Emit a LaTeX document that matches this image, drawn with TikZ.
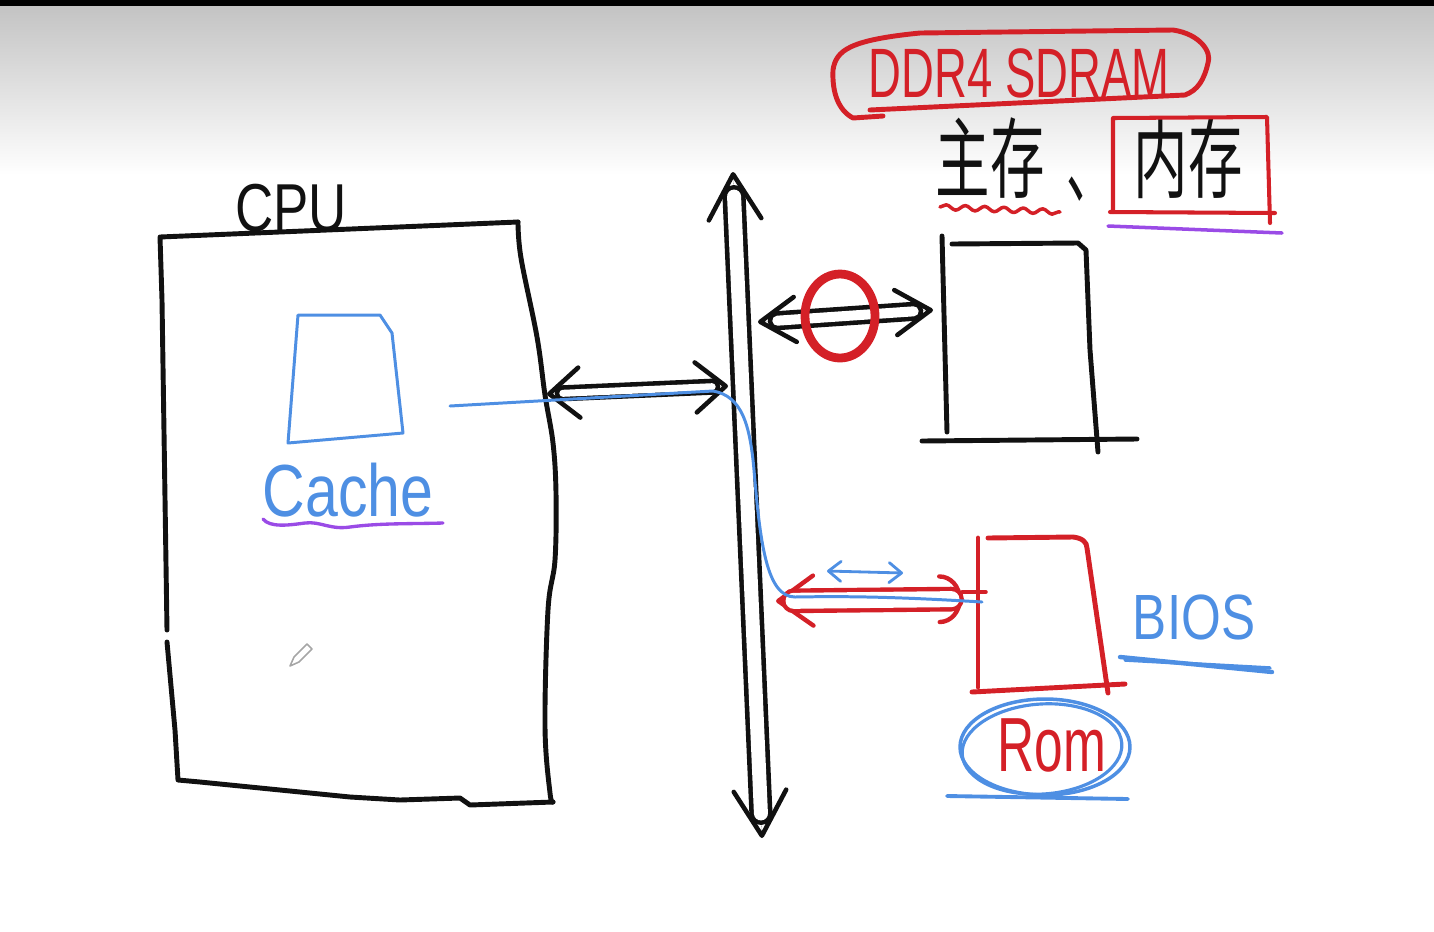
\documentclass[tikz,border=0pt]{standalone}
\usepackage{fontspec}
\setmainfont{Liberation Sans}
\newfontfamily\cjk{Noto Sans CJK SC}
\usetikzlibrary{arrows.meta,decorations.pathmorphing}
\definecolor{Ink}{HTML}{111111}
\definecolor{PenRed}{HTML}{D42027}
\definecolor{PenBlue}{HTML}{4E8FE3}
\definecolor{PenPurple}{HTML}{9A4BE6}
\definecolor{Board}{HTML}{C3C3C3}

\begin{document}
\begin{tikzpicture}[x=0.02cm,y=-0.02cm,
  ink/.style={line width=2.8pt,line cap=round,line join=round,draw=Ink},
  redink/.style={ink,draw=PenRed},
  blueink/.style={ink,draw=PenBlue,line width=1.7pt},
  handtext/.style={inner sep=0pt,text=Ink},
  twin/.style={double=white,double distance=#1,line width=2.6pt,shorten <=9pt,shorten >=9pt},
  barbs/.style n args={2}{line width=0.01pt,{Straight Barb[length=#1,width=#2,line width=2.6pt,round]}-{Straight Barb[length=#1,width=#2,line width=2.6pt,round]}}
]
\useasboundingbox (0,0) rectangle (1434,931);
\shade[top color=Board,bottom color=white] (0,5) rectangle (1434,175);
\fill[black] (0,0) rectangle (1434,6);

% cpu
\draw[ink] (167,630) -- (162,300) -- (160,237) -- (518,222);
\draw[ink] plot[smooth,tension=0.6] coordinates {(518,222) (521,258) (537,337) (545,395) (553,443) (556,493) (555,560) (548,610) (545,727) (550,793) (553,802)};
\draw[ink] (553,802) -- (470,805) -- (460,798) -- (400,800) -- (350,797) -- (200,782) -- (178,780) -- (175,730) -- (167,642);
\node[handtext,font=\fontsize{38.6pt}{40pt}\selectfont,xscale=0.78] (cpu) at (291,208) {CPU};
\draw[blueink] (298,315) -- (380,315) -- (392,333) -- (403,433) -- (288,443) -- (298,315);
\node[handtext,text=PenBlue,font=\fontsize{42pt}{44pt}\selectfont,xscale=0.8] (cache) at (348,490) {Cache};
\draw[ink,draw=PenPurple,line width=1.9pt] (263,519) .. controls (270,528) and (290,525) .. (305,523) .. controls (320,521) and (330,530) .. (350,527) .. controls (380,523) and (410,524) .. (443,523);
\draw[gray!70,line width=0.9pt,line join=round] (290,666) -- (294,657) -- (307,644) -- (312,649) -- (299,662) -- cycle;

% bus
\coordinate (busN) at (733,172);
\coordinate (busS) at (762,838);
\coordinate (cpuE) at (547,394);
\coordinate (busW) at (728,386);
\coordinate (busE) at (758,322);
\coordinate (memW) at (933,310);
\coordinate (busE2) at (776,601);
\coordinate (romW) at (962,599);
\draw[ink,barbs={0.9cm}{1.05cm}] (busN) -- (busS);
\draw[ink,twin=0.28cm,shorten <=14pt,shorten >=14pt] (busN) -- (busS);
\draw[ink,barbs={0.6cm}{1cm}] (cpuE) -- (busW);
\draw[ink,twin=0.14cm] (cpuE) -- (busW);
\draw[ink,barbs={0.7cm}{0.9cm}] (busE) -- (memW);
\draw[ink,twin=0.2cm,shorten <=11pt,shorten >=11pt] (busE) -- (memW);

% main memory
\draw[ink] (942,236) -- (947,432);
\draw[ink] (952,244) -- (1078,243) -- (1086,250) -- (1090,350) -- (1098,452);
\draw[ink] (922,441) -- (1137,439);
\draw[redink,line width=5pt] (840,316) ellipse [x radius=0.7cm,y radius=0.84cm];
\draw[redink] (883,116) -- (853,118) .. controls (838,110) and (832,92) .. (833,70) .. controls (836,50) and (850,40) .. (920,33) -- (1173,30) .. controls (1200,34) and (1212,52) .. (1208,63) .. controls (1204,80) and (1198,90) .. (1185,95) -- (870,110);
\node[handtext,text=PenRed,font=\fontsize{39.8pt}{42pt}\selectfont,xscale=0.65] (ddr) at (1019,73) {DDR4 SDRAM};
\node[handtext,font=\cjk\fontsize{50pt}{52pt}\selectfont,xscale=0.62] (zhucun) at (990,158) {主存};
\node[handtext,font=\cjk\fontsize{50pt}{52pt}\selectfont,anchor=base west,xscale=0.55] (dun) at (1066,196) {、};
\node[handtext,font=\cjk\fontsize{50pt}{52pt}\selectfont,xscale=0.62] (neicun) at (1188,158) {内存};
\draw[redink,line width=2.3pt] (1113,212) -- (1113,118) -- (1267,117) -- (1270,223);
\draw[redink,line width=2.3pt] (1110,212) -- (1275,213);
\draw[redink,line width=2pt,decorate,decoration={snake,amplitude=1.4pt,segment length=11pt}] (940,207) -- (1060,212);
\draw[ink,draw=PenPurple,line width=2pt] (1108,226) -- (1282,233);

% rom
\draw[redink,line width=0.01pt,{Straight Barb[length=0.7cm,width=1cm,line width=2.5pt,round]}-{Arc Barb[length=0.45cm,width=1cm,line width=2.5pt,round]}] (busE2) -- (romW);
\draw[redink,line width=2.5pt,double=white,double distance=0.32cm,shorten <=10pt,shorten >=6pt] (busE2) -- (romW);
\draw[redink,line width=2pt] (962,592) -- (986,592);
\draw[blueink,line width=1.6pt,{Straight Barb[length=0.25cm,width=0.4cm,round]}-{Straight Barb[length=0.25cm,width=0.4cm,round]}] (827,571) -- (903,573);
\draw[redink] (978,538) -- (978,687);
\draw[redink] (988,538) -- (1073,537) .. controls (1082,538) and (1087,542) .. (1087,548) -- (1108,693);
\draw[redink] (972,692) -- (1125,684);
\node[handtext,text=PenBlue,font=\fontsize{36.4pt}{38pt}\selectfont,xscale=0.8] (bios) at (1194,617) {BIOS};
\draw[blueink,line width=2.5pt] (1120,657) -- (1272,672);
\draw[blueink,line width=2pt] (1125,660) -- (1270,668);
\draw[blueink,line width=2pt] (1045,747) ellipse [x radius=1.7cm,y radius=0.96cm];
\draw[blueink,line width=1.8pt,rotate around={4:(1042,749)}] (1042,749) ellipse [x radius=1.6cm,y radius=0.9cm];
\draw[blueink,line width=2.2pt] (947,796) -- (1128,799);
\node[handtext,text=PenRed,font=\fontsize{43.7pt}{46pt}\selectfont,xscale=0.67] (rom) at (1052,745) {Rom};

% cache path
\coordinate (cacheE) at (450,406);
\coordinate (romB) at (982,602);
\draw[blueink] (cacheE) -- (713,391) .. controls (742,396) and (750,425) .. (754,470) .. controls (760,540) and (766,597) .. (795,597) .. controls (850,596) and (900,597) .. (romB);
\end{tikzpicture}
\end{document}
